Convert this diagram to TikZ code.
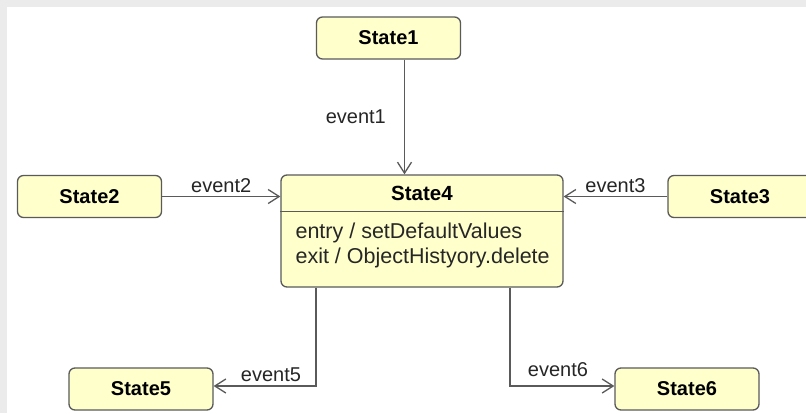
\documentclass[tikz,border=0pt]{standalone}
\usepackage{fontspec}
\setmainfont{Liberation Sans}
\usetikzlibrary{arrows.meta}
\definecolor{statefill}{HTML}{FFFFCC}
\definecolor{stateline}{HTML}{5A5A5A}
\definecolor{frame}{HTML}{EBEBEB}
\begin{document}
\begin{tikzpicture}[x=1pt, y=-1pt,
		state/.style={draw=stateline, fill=statefill, line width=1.3pt, rounded corners=6pt,
			minimum width=144pt, minimum height=42pt, inner sep=0pt,
			font=\fontsize{20}{24}\selectfont\bfseries},
		trans/.style={draw=stateline, line width=1.3pt, -{Straight Barb[length=11pt, width=14pt]}},
		lbl/.style={font=\fontsize{20}{24}\selectfont, inner sep=2pt, text=black!85}]
	% Khung nền
	\useasboundingbox (0,0) rectangle (806,413);
	\fill[frame] (0,0) rectangle (806,413);
	\fill[white] (7,7) rectangle (806,413);
	
	% Các trạng thái
	\node[state] (s1) at (388.5,38) {State1};
	\node[state] (s2) at (89.5,196.5) {State2};
	\node[state] (s3) at (740,196.5) {State3};
	\node[state] (s5) at (141,389) {State5};
	\node[state] (s6) at (687,389) {State6};
	
	% Trạng thái State4 có hai ngăn
	\node[state, minimum width=282pt, minimum height=112pt] (s4) at (422,231) {};
	\node[font=\fontsize{20.5}{24}\selectfont\bfseries, anchor=center] (s4title) at ([yshift=-19pt]s4.north) {State4};
	\draw[stateline, line width=1.3pt] ([yshift=-37pt]s4.north west) -- ([yshift=-37pt]s4.north east);
	\node[font=\fontsize{21.5}{25}\selectfont, anchor=north west, align=left, inner sep=0pt, text=black!85] (s4body)
		at ([xshift=15pt, yshift=-48pt]s4.north west) {entry / setDefaultValues\\exit / ObjectHistyory.delete};
	
	% Các chuyển trạng thái
	\draw[trans] ([xshift=16pt]s1.south) -- node[lbl, left=16pt] {event1} ([xshift=16pt]s1.south |- s4.north);
	\draw[trans] (s2.east) -- node[lbl, above=1pt] {event2} (s2.east -| s4.west);
	\draw[trans] (s3.west) -- node[lbl, above=1pt] {event3} (s3.west -| s4.east);
	\draw[trans] ([xshift=-106pt]s4.south) |- node[lbl, pos=0.72, above=2pt] {event5} ([yshift=3pt]s5.east);
	\draw[trans] ([xshift=88pt]s4.south) |- node[lbl, pos=0.73, above=7pt] {event6} ([yshift=3pt]s6.west);
\end{tikzpicture}
\end{document}
